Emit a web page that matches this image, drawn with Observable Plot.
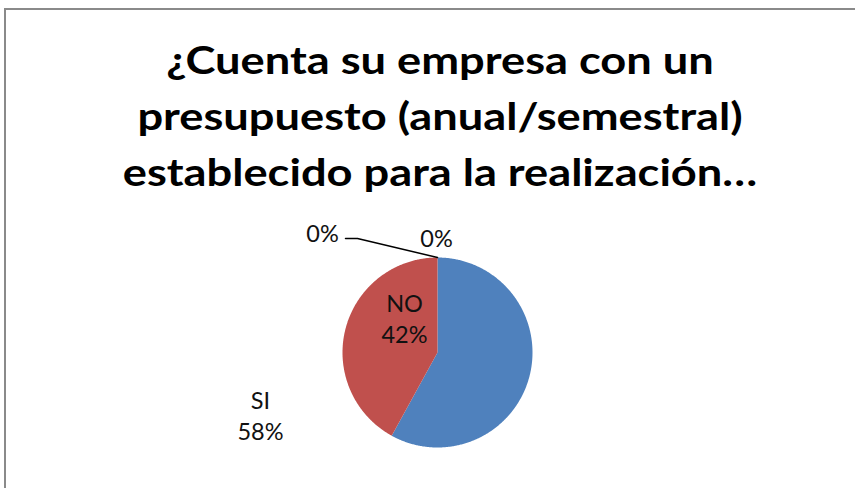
<!DOCTYPE html>
<html>
<head>
<meta charset="utf-8">
<script src="https://cdn.jsdelivr.net/npm/d3@7"></script>
<script src="https://cdn.jsdelivr.net/npm/@observablehq/plot@0.6"></script>
<style>
  html, body { margin: 0; padding: 0; background: #fff; }
  #wrap { position: relative; width: 855px; height: 488px; overflow: hidden; background: #fff; }
  #frame { position: absolute; left: 4px; top: 8px; width: 900px; height: 520px;
           border-top: 2px solid #8a8a8a; border-left: 2px solid #8a8a8a; }
  #title { position: absolute; top: 31px; left: 0; width: 880px; text-align: center;
           font-family: Lato, "Open Sans", sans-serif; font-weight: bold; font-size: 38px;
           line-height: 56px; color: #000;
           transform: scaleX(1.19); transform-origin: 440px 0; }
  #chart { position: absolute; left: 0; top: 200px; }
</style>
</head>
<body>
<div id="wrap">
  <div id="frame"></div>
  <div id="title"></div>
  <div id="chart"></div>
</div>
<script>
// ---- data ----
const titleLines = ["¿Cuenta su empresa con un", "presupuesto (anual/semestral)", "establecido para la realización…"];
const categories = ["SI", "NO", "", ""];
const values = [58, 42, 0, 0];
const colors = ["#4F81BD", "#C0504D", "#9BBB59", "#8064A2"];

// ---- layout (pixels) ----
const W = 855, H = 288;
const CX = 437, CY = 152, R = 95;
// label block centres, pixels from pie centre (y down)
const labelOffsets = [[-177, 62], [-33, -35], [-115, -120], [-1, -115]];
// leader line for the left "0%" label: start, elbow (pixels from centre)
const leaderStart = [-92, -114], leaderElbow = [-80, -114];

document.getElementById("title").innerHTML = titleLines.map(s => `<div>${s}</div>`).join("");

const total = d3.sum(values);
const arcs = d3.pie().sort(null).startAngle(0).endAngle(2 * Math.PI)(values);

// polygons for slices in unit coordinates (y up)
const slicePts = [];
arcs.forEach((a, i) => {
  slicePts.push({k: i, x: 0, y: 0, fill: colors[i]});
  const n = Math.max(1, Math.ceil((a.endAngle - a.startAngle) / (Math.PI / 360)));
  for (let j = 0; j <= n; j++) {
    const t = a.startAngle + (a.endAngle - a.startAngle) * j / n;
    slicePts.push({k: i, x: Math.sin(t), y: Math.cos(t), fill: colors[i]});
  }
  slicePts.push({k: i, x: 0, y: 0, fill: colors[i]});
});

const labels = categories.map((c, i) => {
  const pct = Math.round(values[i] / total * 100) + "%";
  return {
    text: c ? `${c}\n${pct}` : pct,
    x: labelOffsets[i][0] / R,
    y: -labelOffsets[i][1] / R
  };
});

// leader line from left zero label to its slice on the arc
const zeroArc = arcs[2];
const leader = [
  {x: leaderStart[0] / R, y: -leaderStart[1] / R},
  {x: leaderElbow[0] / R, y: -leaderElbow[1] / R},
  {x: Math.sin(zeroArc.startAngle), y: Math.cos(zeroArc.startAngle)}
];

const chart = Plot.plot({
  width: W,
  height: H,
  margin: 0,
  x: {domain: [-CX / R, (W - CX) / R], axis: null},
  y: {domain: [-(H - CY) / R, CY / R], axis: null},
  color: {type: "identity"},
  style: {fontFamily: "Lato, 'Open Sans', sans-serif", background: "transparent", overflow: "visible"},
  marks: [
    Plot.line(slicePts, {x: "x", y: "y", z: "k", fill: "fill", stroke: null, curve: "linear"}),
    Plot.line(leader, {x: "x", y: "y", stroke: "#000", strokeWidth: 1.5}),
    Plot.text(labels, {x: "x", y: "y", text: "text", fontSize: 23.5, lineHeight: 1.32,
                       fill: "#111", fontFamily: "Lato, 'Open Sans', sans-serif"})
  ]
});
document.getElementById("chart").appendChild(chart);
</script>
</body>
</html>
